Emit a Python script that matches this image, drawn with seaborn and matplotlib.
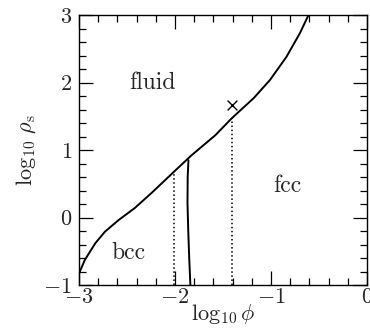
import numpy as np
import pandas as pd
import matplotlib
matplotlib.use('Agg')
import matplotlib.pyplot as plt
from matplotlib.ticker import MultipleLocator
import seaborn as sns

# fluid / solid boundary
fluid_x = [-3.0, -2.94, -2.83, -2.73, -2.59, -2.42, -2.24, -2.01, -1.83, -1.58, -1.41,
           -1.18, -1.01, -0.84, -0.70, -0.61]
fluid_y = [-0.83, -0.63, -0.38, -0.21, -0.04, 0.14, 0.37, 0.68, 0.92, 1.22, 1.47,
           1.77, 2.04, 2.38, 2.73, 3.0]

# bcc / fcc boundary
solid_x = [-1.86, -1.868, -1.87, -1.862, -1.852, -1.84]
solid_y = [0.85, 0.6, 0.21, -0.2, -0.6, -1.0]

# dotted markers
dot_x = [-2.01, -1.41]
dot_top = [0.67, 1.47]

cross_x = [-1.41]
cross_y = [1.67]

sns.set_theme(style='ticks')
plt.rcParams['font.family'] = ['cmr10', 'DejaVu Serif']
plt.rcParams['mathtext.fontset'] = 'cm'
plt.rcParams['axes.formatter.use_mathtext'] = True
plt.rcParams['axes.unicode_minus'] = True

fig = plt.figure(figsize=(3.7, 3.28), dpi=100)
ax = fig.add_axes([0.2135, 0.131, 0.7785, 0.823])

sns.lineplot(x=fluid_x, y=fluid_y, sort=False, estimator=None, color='black', lw=1.4, ax=ax)
sns.lineplot(x=solid_x, y=solid_y, sort=False, estimator=None, color='black', lw=1.4, ax=ax)
for xv, yt in zip(dot_x, dot_top):
    ax.plot([xv, xv], [-1, yt], color='black', ls=':', lw=1.1)
sns.scatterplot(x=cross_x, y=cross_y, marker='x', s=50, color='black', linewidth=1.0, ax=ax)

ax.text(-2.24, 1.99, 'fluid', fontsize=17, ha='center', va='center')
ax.text(-0.83, 0.47, 'fcc', fontsize=17, ha='center', va='center')
ax.text(-2.49, -0.53, 'bcc', fontsize=17, ha='center', va='center')

ax.set_xlim(-3, 0)
ax.set_ylim(-1, 3)
ax.xaxis.set_major_locator(MultipleLocator(1))
ax.xaxis.set_minor_locator(MultipleLocator(0.2))
ax.yaxis.set_major_locator(MultipleLocator(1))
ax.yaxis.set_minor_locator(MultipleLocator(0.2))
ax.tick_params(which='both', direction='in', top=True, right=True, color='black', width=0.9)
ax.tick_params(which='major', length=10, labelsize=16)
ax.tick_params(axis='y', which='major', pad=5)
ax.tick_params(axis='x', which='major', pad=2)
ax.tick_params(which='minor', length=5)
for sp in ax.spines.values():
    sp.set_color('black')
    sp.set_linewidth(1.0)

ax.set_xlabel(r'$\log_{10}\phi$', fontsize=16, labelpad=-4)
ax.set_ylabel(r'$\log_{10}\,\rho_{\rm s}$', fontsize=16, labelpad=4)

fig.savefig('out.png', dpi=100)
